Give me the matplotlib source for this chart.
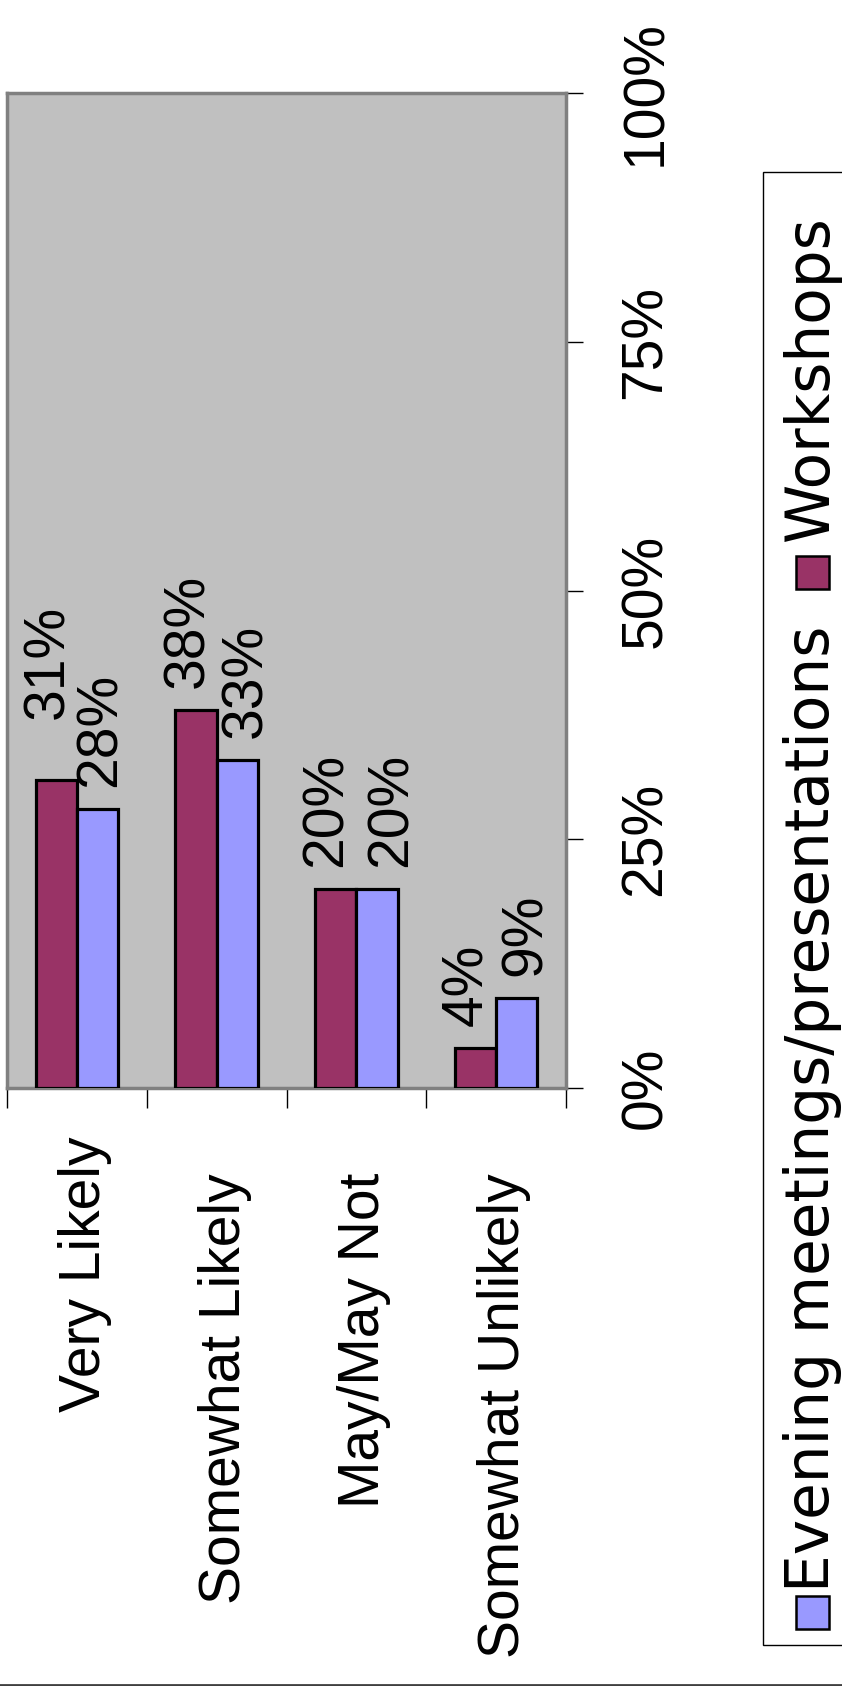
import matplotlib
matplotlib.use("Agg")
import matplotlib.pyplot as plt
import matplotlib.transforms as mtransforms
from matplotlib.patches import Rectangle
from matplotlib.lines import Line2D
import numpy as np

plt.rcParams['font.family'] = ['Liberation Sans', 'DejaVu Sans']

categories = ['Very Likely', 'Somewhat Likely', 'May/May Not', 'Somewhat Unlikely']
workshops = [31, 38, 20, 4]
evening = [28, 33, 20, 9]
series_names = ['Evening meetings/presentations', 'Workshops']
value_ticks = [0, 25, 50, 75, 100]

MAROON = '#993366'
BLUE = '#9999FF'
FS = 41

W, H = 842, 1686
fig = plt.figure(figsize=(W / 100, H / 100), dpi=100)


def fx(px):
    return px / W


def fy(py):
    return 1 - py / H


ax = fig.add_axes([fx(7), fy(1088), fx(566) - fx(7), fy(93) - fy(1088)])
ax.set_facecolor('#C0C0C0')

x = np.arange(len(categories)) + 0.5
bw = 0.295
ax.bar(x - bw / 2, workshops, bw, color=MAROON, edgecolor='black', linewidth=2.3, zorder=3)
ax.bar(x + bw / 2, evening, bw, color=BLUE, edgecolor='black', linewidth=2.3, zorder=3)
ax.set_xlim(0, len(categories))
ax.set_ylim(0, 100)

# value labels above bars (offsets in pixels, as placed in the original)
dx_w = [-8, -8, -9, -8]
dx_e = [3, 9, 15, 9]
dy_w = [61, 22, 22, 22]
dy_e = [22, 22, 22, 22]
for i in range(len(categories)):
    ax.annotate(f'{workshops[i]}%', (x[i] - bw / 2, workshops[i]),
                xytext=(dx_w[i] * 0.72, dy_w[i] * 0.72),
                textcoords='offset points', rotation=90, ha='center', va='bottom',
                fontsize=FS, zorder=4)
    ax.annotate(f'{evening[i]}%', (x[i] + bw / 2, evening[i]),
                xytext=(dx_e[i] * 0.72, dy_e[i] * 0.72),
                textcoords='offset points', rotation=90, ha='center', va='bottom',
                fontsize=FS, zorder=4)

# value axis on the right, rotated labels
ax.yaxis.tick_right()
ax.set_yticks(value_ticks)
ax.set_yticklabels([f'{v}%' for v in value_ticks], rotation=90, va='center')
ax.tick_params(axis='y', length=12.2, width=1, pad=26, labelsize=FS, direction='out')

# category axis: ticks between categories, labels drawn by hand
ax.set_xticks(range(len(categories) + 1))
ax.set_xticklabels([])
ax.tick_params(axis='x', length=14.4, width=1, direction='out')

for s in ax.spines.values():
    s.set_color('#808080')
    s.set_linewidth(2.5)

trans = mtransforms.blended_transform_factory(ax.transData, fig.transFigure)
trans = mtransforms.offset_copy(trans, fig=fig, x=8, y=0, units='dots')
label_top = [1137, 1173, 1173, 1173]
for i, c in enumerate(categories):
    ax.text(x[i], fy(label_top[i]), c, transform=trans, rotation=90,
            ha='center', va='top', fontsize=FS, clip_on=False)

# legend (rotated, drawn by hand); its text is wider than the axis text
fig.patches.append(Rectangle((fx(763), fy(1645)), 0.3, fy(172) - fy(1645),
                             transform=fig.transFigure, facecolor='white',
                             edgecolor='black', linewidth=1, zorder=0))
fig.patches.append(Rectangle((fx(796), fy(1629)), fx(33), 33 / H, transform=fig.transFigure,
                             facecolor=BLUE, edgecolor='black', linewidth=1.8))
fig.patches.append(Rectangle((fx(796), fy(589)), fx(33), 33 / H, transform=fig.transFigure,
                             facecolor=MAROON, edgecolor='black', linewidth=1.8))
leg_font = dict(rotation=90, ha='center', va='bottom', fontsize=43, family='DejaVu Sans')
fig.text(fx(812), fy(1592), series_names[0], **leg_font)
fig.text(fx(812), fy(542), series_names[1], **leg_font)

# bottom edge of the chart area border
fig.add_artist(Line2D([0, 1], [fy(1684.5)] * 2, color='#404040', linewidth=2,
                      transform=fig.transFigure))

fig.savefig('out.png', dpi=100)
